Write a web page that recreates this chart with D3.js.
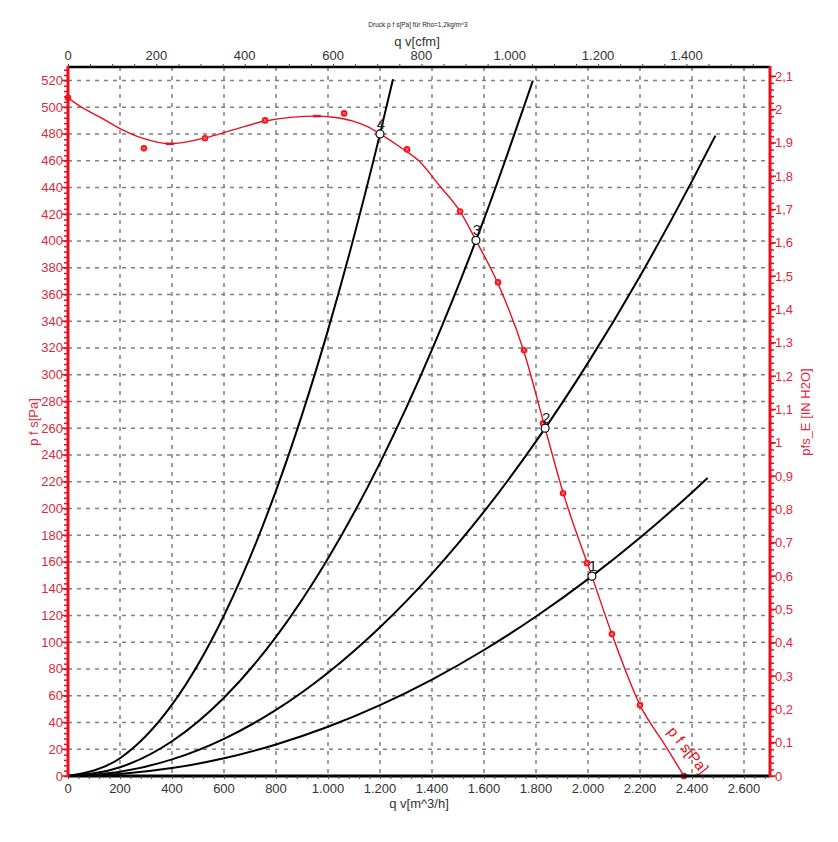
<!DOCTYPE html>
<html><head><meta charset="utf-8">
<script src="https://cdn.jsdelivr.net/npm/d3@7"></script>
<style>body{margin:0;background:#fff}svg{display:block;font-family:"Liberation Sans",Arial,sans-serif}</style>
</head><body><svg id="c" width="838" height="842"></svg>
<script>
// ---- data ----
const xTicksM3h = [0,200,400,600,800,1000,1200,1400,1600,1800,2000,2200,2400,2600];
const xTicksCfm = [0,200,400,600,800,1000,1200,1400];
const yTicksPa = d3.range(0,521,20);
const yTicksInH2O = [0,0.1,0.2,0.3,0.4,0.5,0.6,0.7,0.8,0.9,1,1.1,1.2,1.3,1.4,1.5,1.6,1.7,1.8,1.9,2,2.1];

// fan curve p_fs [Pa] vs q_v [m^3/h]
const fanQ = [0,60,123,200,289,392,527,635,758,957,1019,1096,1150,1200,1277,1354,1430,1508,1569,1654,1754,1835,1904,2015,2092,2200,2300,2369];
const fanP = [507,499,492.5,484,476.6,472.6,477,483,489.6,493.3,492.4,489.5,485.6,480,470.2,459,441,422,400.4,368,317,260,212,149.4,106,53,22,0];
// measured points (markers)
const measQ = [0,292,527,758,1062,1304,1508,1654,1754,1827,1904,1996,2092,2200,2369];
const measP = [507,469.2,476.7,490.1,495.3,468.4,422,369,318.3,263.7,211.4,159.1,106.1,53,0];
// system resistance curves
const sys1Q = [0,200,400,600,800,1000,1200,1400,1600,1800,2000,2200,2400,2460];
const sys1P = [0,1.5,5.9,13.2,23.6,36.8,53,72.1,94.2,119.2,147.2,178.1,212,222.7];
const sys2Q = [0,200,400,600,800,1000,1200,1400,1600,1800,2000,2200,2400,2490];
const sys2P = [0,3.1,12.4,27.8,49.4,77.2,111.2,151.3,197.6,250.1,308.8,373.6,444.7,478.7];
const sys3Q = [0,200,400,600,800,1000,1200,1400,1600,1788];
const sys3P = [0,6.5,26,58.5,104,162.6,234.1,318.7,416.3,519.8];
const sys4Q = [0,200,400,600,800,1000,1200,1250];
const sys4P = [0,13.3,53.3,120,213.3,333.3,480,520.8];
// operating points
const opLabels = ["1","2","3","4"];
const opQ = [2015,1835,1569,1200];
const opP = [149.4,260,400.4,480];

// ---- chart ----
const svg = d3.select("#c");
const L=68,R=770,T=67,B=776;
const x = d3.scaleLinear().domain([0,2700]).range([L,R]);
const y = d3.scaleLinear().domain([0,530]).range([B,T]);
const xc = d3.scaleLinear().domain([0,2700/1.699]).range([L,R]);
const yi = d3.scaleLinear().domain([0,530/249.089]).range([B,T]);
const red="#e8101e", redTxt="#dc2a3c", txt="#333";

svg.append("defs").append("clipPath").attr("id","pc").append("rect")
  .attr("x",L).attr("y",T).attr("width",R-L).attr("height",B-T);

// grid
const g = svg.append("g");
g.selectAll(".vg").data(xTicksM3h.filter(d=>d>0)).join("line")
  .attr("x1",d=>x(d)).attr("x2",d=>x(d)).attr("y1",T).attr("y2",B)
  .attr("stroke","#808080").attr("stroke-width",1.5).attr("stroke-dasharray","4,5");
g.selectAll(".hg").data(yTicksPa.filter(d=>d>0)).join("line")
  .attr("x1",L).attr("x2",R).attr("y1",d=>y(d)).attr("y2",d=>y(d))
  .attr("stroke","#808080").attr("stroke-width",1.5).attr("stroke-dasharray","4,5");

// system curves
const line = d3.line().x(d=>x(d[0])).y(d=>y(d[1])).curve(d3.curveMonotoneX);
const sysData = [[sys1Q,sys1P],[sys2Q,sys2P],[sys3Q,sys3P],[sys4Q,sys4P]];
const cg = svg.append("g").attr("clip-path","url(#pc)");
sysData.forEach(([qs,ps])=>{
  cg.append("path").attr("d",line(qs.map((q,i)=>[q,ps[i]])))
    .attr("fill","none").attr("stroke","#000").attr("stroke-width",2);
});
// fan curve
cg.append("path").attr("d",line(fanQ.map((q,i)=>[q,fanP[i]])))
  .attr("fill","none").attr("stroke",red).attr("stroke-width",1.4);
// small dashes at min / max
[[392,472.6],[957,493.3]].forEach(([q,p])=>{
  cg.append("line").attr("x1",x(q)-4).attr("x2",x(q)+4).attr("y1",y(p)).attr("y2",y(p))
    .attr("stroke",red).attr("stroke-width",2.5);
});
// markers
const mk = svg.append("g");
measQ.forEach((q,i)=>{
  const cx=x(q), cy=y(measP[i]);
  mk.append("circle").attr("cx",cx).attr("cy",cy).attr("r",3.3).attr("fill","#f0141e");
  mk.append("path").attr("d",`M${cx-1.4},${cy-1.4}L${cx+1.4},${cy+1.4}M${cx-1.4},${cy+1.4}L${cx+1.4},${cy-1.4}`)
    .attr("stroke","#ffb0b0").attr("stroke-width",0.8);
});

// operating points
opQ.forEach((q,i)=>{
  svg.append("circle").attr("cx",x(q)).attr("cy",y(opP[i])).attr("r",4)
    .attr("fill","#fff").attr("stroke","#000").attr("stroke-width",1.2);
  svg.append("text").attr("x",x(q)+1).attr("y",y(opP[i])-5).attr("text-anchor","middle")
    .attr("font-size",15).attr("fill","#222").text(opLabels[i]);
});

// fan curve label
svg.append("g").attr("clip-path","url(#pc)").append("text")
  .attr("transform",`translate(${x(2303)},${y(33)}) rotate(51)`)
  .attr("font-size",15).attr("fill",red).text("p f s[Pa]");

// axes frames
svg.append("line").attr("x1",L).attr("x2",R).attr("y1",T).attr("y2",T).attr("stroke","#000").attr("stroke-width",2.5);
svg.append("line").attr("x1",L).attr("x2",R).attr("y1",B).attr("y2",B).attr("stroke","#000").attr("stroke-width",3);

// bottom axis
const fmtDot = d=>d3.format(",")(d).replace(/,/g,".");
const bx = svg.append("g").attr("transform",`translate(0,${B})`)
  .call(d3.axisBottom(x).tickValues(d3.range(0,2701,40)).tickFormat("").tickSize(3));
bx.select(".domain").remove();
bx.selectAll("line").attr("stroke","#444");
svg.append("g").selectAll("text").data(xTicksM3h).join("text")
  .attr("x",d=>x(d)).attr("y",B+17).attr("text-anchor","middle")
  .attr("font-size",13).attr("fill",txt).text(fmtDot);
svg.append("text").attr("x",419).attr("y",808).attr("text-anchor","middle")
  .attr("font-size",13).attr("fill",txt).text("q v[m^3/h]");

// top axis
const tx = svg.append("g").attr("transform",`translate(0,${T})`)
  .call(d3.axisTop(xc).tickValues(d3.range(0,1551,50)).tickFormat("").tickSize(3));
tx.select(".domain").remove();
tx.selectAll("line").attr("stroke","#444");
svg.append("g").selectAll("text").data(xTicksCfm).join("text")
  .attr("x",d=>xc(d)).attr("y",T-7).attr("text-anchor","middle")
  .attr("font-size",13).attr("fill",txt).text(fmtDot);
svg.append("text").attr("x",417).attr("y",46).attr("text-anchor","middle")
  .attr("font-size",13).attr("fill",txt).text("q v[cfm]");
svg.append("text").attr("x",418).attr("y",27).attr("text-anchor","middle")
  .attr("font-size",6.5).attr("fill","#222").text("Druck p f s[Pa] für Rho=1,2kg/m^3");

// left axis
const ly = svg.append("g").attr("transform",`translate(${L},0)`)
  .call(d3.axisLeft(y).tickValues(d3.range(0,529,4)).tickFormat("").tickSize(4));
ly.select(".domain").remove();
ly.selectAll("line").attr("stroke",red).attr("stroke-width",1.5);
svg.append("g").selectAll("line").data(yTicksPa).join("line")
  .attr("x1",L-6).attr("x2",L).attr("y1",d=>y(d)).attr("y2",d=>y(d)).attr("stroke",red).attr("stroke-width",1.5);
svg.append("g").selectAll("text").data(yTicksPa).join("text")
  .attr("x",L-5).attr("y",d=>y(d)+4.5).attr("text-anchor","end")
  .attr("font-size",13).attr("fill",redTxt).text(d=>d);
svg.append("line").attr("x1",L).attr("x2",L).attr("y1",T-1).attr("y2",B+1).attr("stroke",red).attr("stroke-width",3);
svg.append("text").attr("transform","translate(38,422) rotate(-90)").attr("text-anchor","middle")
  .attr("font-size",13).attr("fill",redTxt).text("p f s[Pa]");

// right axis
const ry = svg.append("g").attr("transform",`translate(${R},0)`)
  .call(d3.axisRight(yi).tickValues(d3.range(0,106).map(i=>i*0.02)).tickFormat("").tickSize(4));
ry.select(".domain").remove();
ry.selectAll("line").attr("stroke",red).attr("stroke-width",1.5);
svg.append("g").selectAll("line").data(yTicksInH2O).join("line")
  .attr("x1",R).attr("x2",R+6).attr("y1",d=>yi(d)).attr("y2",d=>yi(d)).attr("stroke",red).attr("stroke-width",1.5);
svg.append("g").selectAll("text").data(yTicksInH2O).join("text")
  .attr("x",R+5).attr("y",d=>yi(d)+4.5).attr("text-anchor","start")
  .attr("font-size",13).attr("fill",redTxt).text(d=>String(+d.toFixed(1)).replace(".",","));
svg.append("line").attr("x1",R).attr("x2",R).attr("y1",T-1).attr("y2",B+1).attr("stroke",red).attr("stroke-width",3);
svg.append("text").attr("transform","translate(810,412) rotate(-90)").attr("text-anchor","middle")
  .attr("font-size",13).attr("fill",redTxt).text("pfs_E [IN H2O]");
</script></body></html>
